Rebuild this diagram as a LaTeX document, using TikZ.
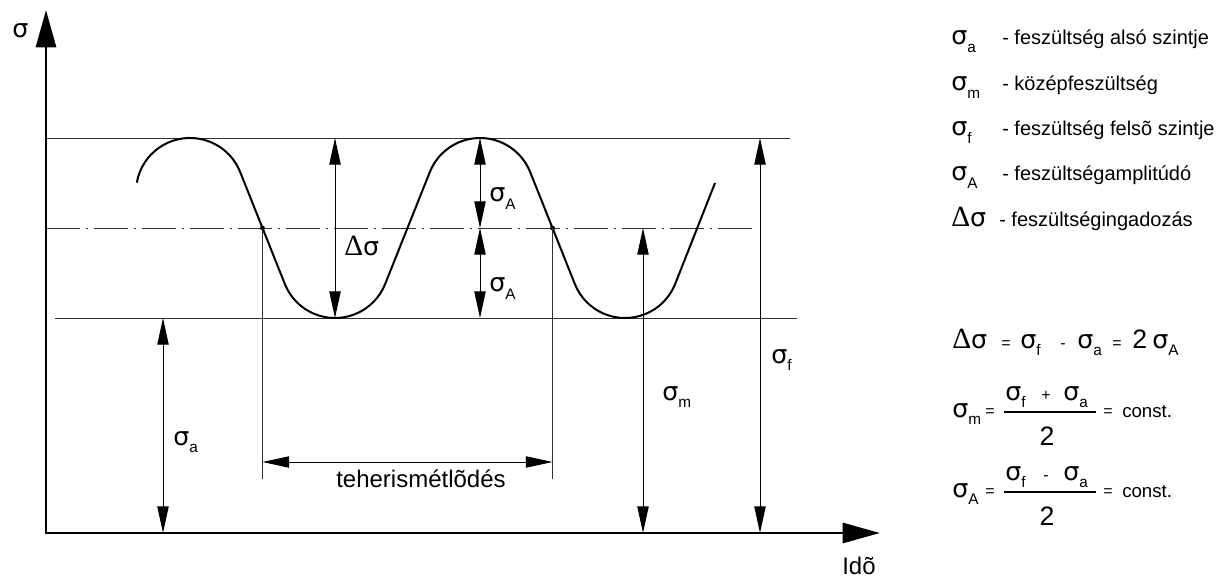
\documentclass[tikz,border=0pt]{standalone}
\usepackage{fontspec}
\setmainfont{Liberation Sans}
\newfontfamily\serifgr{Liberation Serif}
\newfontfamily\sigfont{DejaVu Sans}
\usetikzlibrary{arrows.meta}

\newcommand\sgsize{\fontsize{19}{22}\selectfont}
\newcommand\idxsize{\fontsize{11.5}{13}\selectfont}
\newcommand\sg[1]{{\sigfont\sgsize σ}\raisebox{-5.5pt}{\idxsize #1}}
\newcommand\dsg{{\serifgr\fontsize{22}{24}\selectfont Δ}{\sigfont\sgsize σ}}
\newcommand\opsize{\fontsize{12}{14}\selectfont}

\begin{document}
\begin{tikzpicture}[
  x=0.75pt,y=0.75pt,
  axis/.style={line width=2.2pt,
    {Triangle[length=28pt,width=15pt]}-{Triangle[length=28pt,width=15pt]}},
  thinline/.style={line width=0.7pt,draw=black!80},
  midline/.style={thinline,dash pattern=on 25.5pt off 4.5pt on 1.5pt off 4.5pt},
  curve/.style={line width=1.5pt},
  dimarrow/.style={line width=0.7pt,
    {Triangle[length=20pt,width=8.5pt]}-{Triangle[length=20pt,width=8.5pt]}},
  lbl/.style={anchor=base west,inner sep=0pt},
  bigtxt/.style={lbl,font=\fontsize{18}{20}\selectfont},
  legtxt/.style={lbl,font=\fontsize{15}{18}\selectfont},
  op/.style={anchor=base,inner sep=0pt,font=\opsize},
  bar/.style={line width=2pt}
]
\useasboundingbox (0,0) rectangle (1216,579);

% axes and levels
\coordinate (O) at (46,46);
\coordinate (ytip) at (46,569);
\coordinate (xtip) at (880,46);
\coordinate (topl) at (46,441);
\coordinate (topr) at (790,441);
\coordinate (midl) at (46,351);
\coordinate (midr) at (752,351);
\coordinate (botl) at (55,261);
\coordinate (botr) at (797,261);

\draw[thinline] (topl) -- (topr);
\draw[midline] (midl) -- (midr);
\draw[thinline] (botl) -- (botr);
\draw[axis] (ytip) -- (O) -- (xtip);

\node[lbl,font=\sigfont\sgsize] (ylab) at (12,541) {σ};
\node[bigtxt] (xlab) at (842,5) {Idõ};

% stress curve
\draw[curve] (136.8,396.4) arc[start angle=170,end angle=22,radius=54]
  -- (284.93,294.77) arc[start angle=202,end angle=338,radius=54]
  -- (429.93,407.23) arc[start angle=158,end angle=22,radius=54]
  -- (574.93,294.77) arc[start angle=202,end angle=338,radius=54]
  -- (715,396);

\coordinate (cr1) at (262.5,351);
\coordinate (cr2) at (552.5,351);
\coordinate (cr1b) at (262.5,100);
\coordinate (cr2b) at (552.5,100);
\coordinate (per1) at (262.5,117);
\coordinate (per2) at (552.5,117);
\fill (cr1) circle (1.8pt);
\fill (cr2) circle (1.8pt);
\draw[thinline] (cr1) -- (cr1b);
\draw[thinline] (cr2) -- (cr2b);
\draw[dimarrow] (per1) -- (per2);
\node[bigtxt] (perlab) at (336,92) {teherismétlõdés};

% dimensions
\coordinate (ds1) at (335,441);
\coordinate (ds2) at (335,261);
\draw[dimarrow] (ds1) -- (ds2);
\node[lbl] (dslab) at (344,324) {\dsg};

\coordinate (amp1) at (480,441);
\coordinate (amp2) at (480,351);
\coordinate (amp3) at (480,261);
\draw[dimarrow] (amp1) -- (amp2);
\draw[dimarrow] (amp2) -- (amp3);
\node[lbl] (amplab1) at (489,377) {\sg{A}};
\node[lbl] (amplab2) at (489,287) {\sg{A}};

\coordinate (low1) at (163,261);
\coordinate (low2) at (163,46);
\draw[dimarrow] (low1) -- (low2);
\node[lbl] (lowlab) at (173,134) {\sg{a}};

\coordinate (mean1) at (643,351);
\coordinate (mean2) at (643,46);
\draw[dimarrow] (mean1) -- (mean2);
\node[lbl] (meanlab) at (662,179) {\sg{m}};

\coordinate (up1) at (760,441);
\coordinate (up2) at (760,46);
\draw[dimarrow] (up1) -- (up2);
\node[lbl] (uplab) at (771,216) {\sg{f}};

% legend
\node[lbl] (lg1) at (951,534) {\sg{a}};
\node[legtxt] (lg1t) at (1002,534) {- feszültség alsó szintje};
\node[lbl] (lg2) at (951,488) {\sg{m}};
\node[legtxt] (lg2t) at (1002,488) {- középfeszültség};
\node[lbl] (lg3) at (951,443) {\sg{f}};
\node[legtxt] (lg3t) at (1002,443) {- feszültség felsõ szintje};
\node[lbl] (lg4) at (951,398) {\sg{A}};
\node[legtxt] (lg4t) at (1002,398) {- feszültségamplitúdó};
\node[lbl] (lg5) at (951,352) {\dsg};
\node[legtxt] (lg5t) at (999,352) {- feszültségingadozás};

% formulas
\node[lbl] (fa1) at (952,231) {\dsg};
\node[op] (fa2) at (1006,231) {=};
\node[lbl] (fa3) at (1020,231) {\sg{f}};
\node[op] (fa4) at (1063,231) {-};
\node[lbl] (fa5) at (1077,231) {\sg{a}};
\node[op] (fa6) at (1117,231) {=};
\node[lbl,font=\fontsize{20}{22}\selectfont] (fa7) at (1132,231) {2};
\node[lbl] (fa8) at (1152,231) {\sg{A}};

\node[lbl] (fb1) at (952,162) {\sg{m}};
\node[op] (fb2) at (990,163) {=};
\coordinate (fbl) at (1004,167);
\coordinate (fbr) at (1096,167);
\draw[bar] (fbl) -- (fbr);
\node[lbl] (fb3) at (1005,179) {\sg{f}};
\node[op] (fb4) at (1046,179) {+};
\node[lbl] (fb5) at (1063,179) {\sg{a}};
\node[anchor=base,inner sep=0pt,font=\fontsize{20}{22}\selectfont] (fb6) at (1047,134) {2};
\node[op] (fb7) at (1108,163) {=};
\node[legtxt,font=\fontsize{14}{16}\selectfont] (fb8) at (1122,162) {const.};

\node[lbl] (fc1) at (952,82) {\sg{A}};
\node[op] (fc2) at (990,83) {=};
\coordinate (fcl) at (1004,87);
\coordinate (fcr) at (1096,87);
\draw[bar] (fcl) -- (fcr);
\node[lbl] (fc3) at (1005,99) {\sg{f}};
\node[op] (fc4) at (1046,99) {-};
\node[lbl] (fc5) at (1063,99) {\sg{a}};
\node[anchor=base,inner sep=0pt,font=\fontsize{20}{22}\selectfont] (fc6) at (1047,54) {2};
\node[op] (fc7) at (1108,83) {=};
\node[legtxt,font=\fontsize{14}{16}\selectfont] (fc8) at (1122,82) {const.};
\end{tikzpicture}
\end{document}
